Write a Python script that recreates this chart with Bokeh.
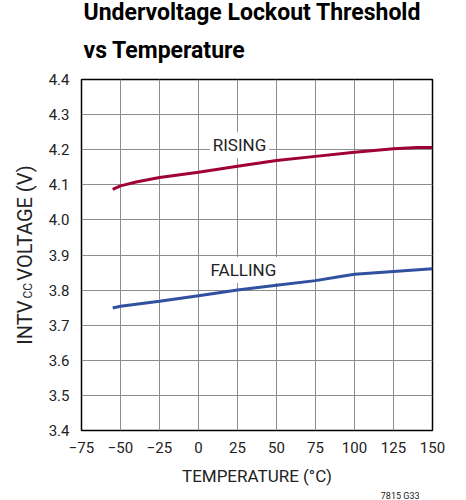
from bokeh.plotting import figure
from bokeh.models import FixedTicker, Label, Range1d, LinearAxis, Title
from bokeh.embed import file_html
from bokeh.resources import INLINE

rise_temps = [-55, -50, -40, -25, 0, 25, 50, 75, 100, 125, 140, 150]
rising = [4.087, 4.097, 4.108, 4.121, 4.136, 4.153, 4.169, 4.181, 4.193, 4.203, 4.206, 4.206]
fall_temps = [-55, -50, -25, 0, 25, 50, 75, 90, 100, 125, 150]
falling = [3.749, 3.754, 3.768, 3.784, 3.800, 3.814, 3.827, 3.838, 3.845, 3.853, 3.861]

x_ticks = [-75, -50, -25, 0, 25, 50, 75, 100, 125, 150]
x_tick_labels = ["\u221275", "\u221250", "\u221225", "0", "25", "50", "75", "100", "125", "150"]
y_ticks = [3.4, 3.5, 3.6, 3.7, 3.8, 3.9, 4.0, 4.1, 4.2, 4.3, 4.4]
y_tick_labels = ["3.4", "3.5", "3.6", "3.7", "3.8", "3.9", "4.0", "4.1", "4.2", "4.3", "4.4"]

title_lines = ["Undervoltage Lockout Threshold", "vs Temperature"]
x_label = "TEMPERATURE (\u00b0C)"
y_label_main = ["INTV", "VOLTAGE (V)"]
y_label_sub = "CC"
note = "7815 G33"

FONT = "Roboto"
TXT = "#222222"

p = figure(width=466, height=500, output_backend="svg", toolbar_location=None,
           x_range=Range1d(-75, 150), y_range=Range1d(3.4, 4.4),
           min_border_left=81, min_border_right=34, min_border_top=79, min_border_bottom=70)
p.outline_line_color = "black"
p.outline_line_width = 1.5
p.background_fill_color = "white"
p.border_fill_color = "white"

def plain_axis(ax, size="15px"):
    ax.axis_line_color = None
    ax.major_tick_line_color = None
    ax.minor_tick_line_color = None
    ax.major_tick_out = 0
    ax.major_tick_in = 0
    ax.minor_tick_out = 0
    ax.minor_tick_in = 0
    ax.major_label_text_font = FONT
    ax.major_label_text_font_size = size
    ax.major_label_text_color = TXT

plain_axis(p.xaxis[0])
plain_axis(p.yaxis[0])

p.xaxis.ticker = FixedTicker(ticks=x_ticks)
p.yaxis.ticker = FixedTicker(ticks=y_ticks)
p.xaxis.major_label_overrides = {t: l for t, l in zip(x_ticks, x_tick_labels)}
p.yaxis.major_label_overrides = {t: l for t, l in zip(y_ticks, y_tick_labels)}
p.xaxis.major_label_standoff = 11
p.yaxis.major_label_standoff = 12

p.xaxis.axis_label = x_label
p.xaxis.axis_label_text_font = FONT
p.xaxis.axis_label_text_font_size = "17px"
p.xaxis.axis_label_text_font_style = "normal"
p.xaxis.axis_label_text_color = TXT
p.xaxis.axis_label_standoff = 10

# y-axis label with subscript: an extra axis carrying "CC" as its single tick label
cc_pos = 3.798
yl = LinearAxis(ticker=FixedTicker(ticks=[cc_pos]), major_label_overrides={cc_pos: y_label_sub})
plain_axis(yl, "12px")
yl.major_label_orientation = "vertical"
yl.major_label_standoff = 10
yl.axis_label = y_label_main[0] + "\u00a0" * 4 + y_label_main[1]
yl.axis_label_text_font = FONT
yl.axis_label_text_font_size = "20px"
yl.axis_label_text_font_style = "normal"
yl.axis_label_text_color = TXT
yl.axis_label_standoff = -18
p.add_layout(yl, "left")

p.xgrid.grid_line_color = "#8c8c8c"
p.ygrid.grid_line_color = "#8c8c8c"
p.xgrid.grid_line_width = 1
p.ygrid.grid_line_width = 1

p.line(rise_temps, rising, line_color="#a0003a", line_width=3)
p.line(fall_temps, falling, line_color="#3050a0", line_width=3)

p.add_layout(Label(x=26.3, y=4.213, text="RISING", text_font=FONT, text_font_size="17px",
                   text_align="center", text_baseline="middle", text_color=TXT,
                   background_fill_color="white", background_fill_alpha=1.0, padding=3))
p.add_layout(Label(x=28.8, y=3.857, text="FALLING", text_font=FONT, text_font_size="17px",
                   text_align="center", text_baseline="middle", text_color=TXT,
                   background_fill_color="white", background_fill_alpha=1.0, padding=3))

# Title: two lines (the added Title sits closer to the frame)
p.title.text = title_lines[0]
p.title.text_font = FONT
p.title.text_font_size = "23px"
p.title.text_font_style = "bold"
p.title.text_color = "black"
p.title.align = "left"
p.title.offset = 2
p.title.standoff = -13
p.add_layout(Title(text=title_lines[1], text_font=FONT, text_font_size="23px", text_font_style="bold",
                   text_color="black", align="left", offset=2, standoff=31), "above")

# footnote
p.add_layout(Title(text=note, text_font=FONT, text_font_size="9px", text_font_style="normal",
                   text_color=TXT, align="right", offset=13, standoff=0), "below")

open("out.html", "w").write(file_html(p, INLINE))
